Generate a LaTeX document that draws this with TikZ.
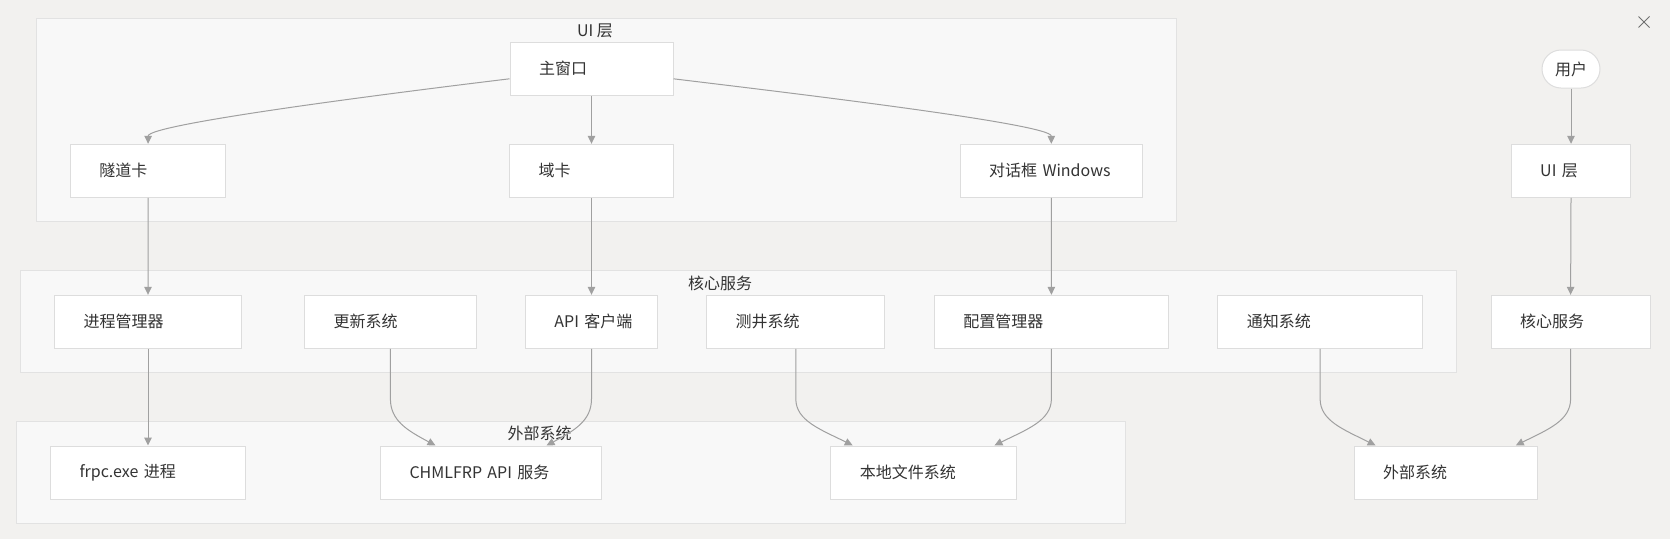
\documentclass[tikz,border=0pt]{standalone}
\usepackage{fontspec}
\setmainfont{Noto Sans CJK SC}
\usepackage{xcolor}
\usepackage{tikz}
\usetikzlibrary{calc,arrows.meta}
\definecolor{bg}{HTML}{F2F1EF}
\definecolor{grpbg}{HTML}{F8F8F8}
\definecolor{grpline}{HTML}{E2E2E2}
\definecolor{cardline}{HTML}{DDDDDD}
\definecolor{ink}{HTML}{333333}
\definecolor{wire}{HTML}{A0A0A0}
\definecolor{muted}{HTML}{707070}
\tikzset{
  grp/.style={draw=grpline, fill=grpbg, line width=1pt},
  grplab/.style={text=ink, font=\fontsize{16}{20}\selectfont, inner sep=0pt},
  card/.style={draw=cardline, fill=white, line width=1pt, text=ink, font=\fontsize{16}{20}\selectfont,
    minimum height=53pt, inner xsep=29pt, inner ysep=0pt, text width=#1, align=left},
  pill/.style={draw=cardline, fill=white, line width=1pt, rounded corners=19pt, text=ink,
    font=\fontsize{16}{20}\selectfont, minimum width=58pt, minimum height=38pt, inner sep=0pt},
  flow/.style={draw=wire, line width=1pt, -{Triangle[length=8pt,width=7.5pt]}},
}

\begin{document}
\begin{tikzpicture}[x=1pt, y=-1pt]
  \fill[bg] (0,0) rectangle (1670,539);
  % groups
  \draw[grp] (36.5,18.3) rectangle (1176,221.5);
  \node[grplab] at (595,31) {UI 层};
  \draw[grp] (20.5,270.7) rectangle (1456.7,372.3);
  \node[grplab] at (720,283.3) {核心服务};
  \draw[grp] (16.5,421.7) rectangle (1125,523.3);
  \node[grplab] at (539.5,433.3) {外部系统};
  % UI layer
  \node[card=105pt] (main) at (591.5,68.8) {主窗口};
  \node[card=97.4pt] (tunnel) at (148.1,170.8) {隧道卡};
  \node[card=106pt] (domain) at (591.5,170.8) {域卡};
  \node[card=124.2pt] (dlg) at (1051.3,170.8) {对话框~Windows};
  \node[pill] (user) at (1571,69) {用户};
  \node[card=61.6pt] (ui) at (1571,170.8) {UI~层};
  % core services
  \node[card=129pt] (proc) at (148,321.8) {进程管理器};
  \node[card=113.8pt] (upd) at (390.4,321.8) {更新系统};
  \node[card=74.2pt] (api) at (591.5,321.8) {API~客户端};
  \node[card=120.3pt] (log) at (795.8,321.8) {测井系统};
  \node[card=176.3pt] (cfg) at (1051.4,321.8) {配置管理器};
  \node[card=146.3pt] (ntf) at (1320.1,321.8) {通知系统};
  \node[card=100.8pt] (core) at (1570.6,321.8) {核心服务};
  % external systems
  \node[card=137pt] (frpc) at (148,472.5) {frpc.exe~进程};
  \node[card=163pt] (chml) at (491,472.5) {CHMLFRP~API~服务};
  \node[card=127.4pt] (loc) at (923.6,472.5) {本地文件系统};
  \node[card=125.4pt] (ext) at (1445.7,472.5) {外部系统};
  % links
  \draw[flow] ([yshift=-10pt]main.west) .. controls +(-109.5,13.3) and +(0,-20) .. (tunnel.north);
  \draw[flow] (main.south) -- (domain.north);
  \draw[flow] ([yshift=-10pt]main.east) .. controls +(109.5,13.3) and +(0,-20) .. (dlg.north);
  \draw[flow] (tunnel.south) -- (proc.north);
  \draw[flow] (domain.south) -- (api.north);
  \draw[flow] (dlg.south) -- (cfg.north);
  \draw[flow] (user.south) -- (ui.north);
  \draw[flow] (ui.south) -- (core.north);
  \draw[flow] (proc.south) -- (frpc.north);
  \draw[flow] (upd.south) -- ++(0,50) .. controls +(0,22) and +(-28,-15) .. ($(chml.north west)!0.25!(chml.north east)$);
  \draw[flow] (api.south) -- ++(0,50) .. controls +(0,22) and +(28,-15) .. ($(chml.north west)!0.75!(chml.north east)$);
  \draw[flow] (log.south) -- ++(0,50) .. controls +(0,22) and +(-32,-16) .. ($(loc.north west)!0.12!(loc.north east)$);
  \draw[flow] (cfg.south) -- ++(0,50) .. controls +(0,22) and +(32,-16) .. ($(loc.north west)!0.88!(loc.north east)$);
  \draw[flow] (ntf.south) -- ++(0,50) .. controls +(0,22) and +(-32,-16) .. ($(ext.north west)!0.12!(ext.north east)$);
  \draw[flow] (core.south) -- ++(0,50) .. controls +(0,22) and +(32,-16) .. ($(ext.north west)!0.88!(ext.north east)$);
  % close mark
  \draw[muted, line width=0.8pt] (1638.5,16.5) -- (1649.5,27.5) (1638.5,27.5) -- (1649.5,16.5);
\end{tikzpicture}
\end{document}
